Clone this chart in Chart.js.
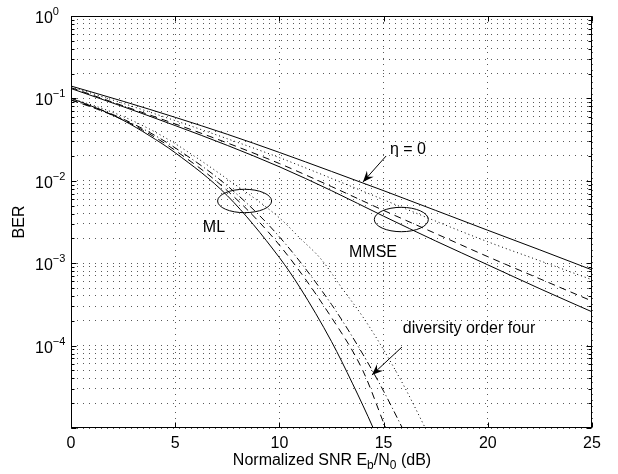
<!DOCTYPE html>
<html>
<head>
<meta charset="utf-8">
<script src="https://cdn.jsdelivr.net/npm/chart.js@4.4.1/dist/chart.umd.min.js"></script>
<style>
  html, body { margin: 0; padding: 0; background: #fff; }
  canvas { display: block; }
</style>
</head>
<body>
<canvas id="berChart" width="618" height="474"></canvas>
<script>
// axis ticks
const xTicks = [0, 5, 10, 15, 20, 25];
const yDecades = [1e-5, 1e-4, 1e-3, 1e-2, 1e-1, 1];
const yLabelExponents = [0, -1, -2, -3, -4];
const yMinorSteps = [1, 2, 3, 4, 5, 6, 7, 8, 9];

// MMSE curves (shared SNR grid, dB)
const snrMmse = [0, 2.5, 5, 7.5, 10, 12.5, 15, 17.5, 20, 22.5, 25];
const mmseEta0 = [0.1413, 0.0923, 0.0589, 0.0367, 0.0221, 0.013, 0.00759, 0.00437, 0.00251, 0.00145, 0.00083];
const mmseDotted = [0.138, 0.0871, 0.0537, 0.0324, 0.0191, 0.0107, 0.00589, 0.00324, 0.00182, 0.00107, 0.00063];
const mmseDashed = [0.135, 0.0813, 0.049, 0.0288, 0.0162, 0.00851, 0.00437, 0.00229, 0.0012, 0.000646, 0.000347];
const mmseLower = [0.1318, 0.0794, 0.0468, 0.0269, 0.0148, 0.00759, 0.00372, 0.00186, 0.000955, 0.00049, 0.000257];

// ML curves
const snrMlSolid = [0, 1.25, 2.5, 3.75, 5, 7.5, 10, 11, 12.5, 13.5, 14.5, 15];
const mlSolid = [0.1, 0.0759, 0.0543, 0.0355, 0.0219, 0.0066, 0.00117, 0.0005, 0.000112, 0.000035, 0.00001, 0.000005];
const snrMlDashed = [0, 1.25, 2.5, 3.75, 5, 7.5, 10, 12.5, 14, 15.1, 15.6];
const mlDashed = [0.0955, 0.0741, 0.055, 0.0372, 0.0234, 0.00759, 0.00166, 0.000219, 0.00005, 0.00001, 0.000005];
const snrMlDashDot = [0, 1.25, 2.5, 3.75, 5, 7.5, 10, 12.5, 14, 15, 15.9, 16.3];
const mlDashDot = [0.0955, 0.0759, 0.0562, 0.0389, 0.0251, 0.0087, 0.00209, 0.000316, 0.000079, 0.000028, 0.00001, 0.0000063];
const snrMlDotted = [0, 1.25, 2.5, 3.75, 5, 7.5, 10, 11, 12, 13, 14, 15, 16, 17, 17.4];
const mlDotted = [0.1, 0.0794, 0.0603, 0.0427, 0.0282, 0.0105, 0.00355, 0.002, 0.00112, 0.0005, 0.000224, 0.000089, 0.0000316, 0.00001, 0.0000063];

const FONT = '"Liberation Sans", Arial, Helvetica, sans-serif';

function pts(xs, ys) {
  return xs.map((x, i) => ({ x: x, y: ys[i] }));
}

function curve(xs, ys, dash) {
  return {
    data: pts(xs, ys),
    borderColor: '#000',
    borderWidth: 1,
    borderDash: dash,
    pointRadius: 0,
    fill: false,
    cubicInterpolationMode: 'monotone',
  };
}

// text built from pieces, some raised or lowered (super/subscripts)
function drawPieces(ctx, pieces, x, y, align) {
  let total = 0;
  pieces.forEach((p) => {
    ctx.font = p.size + 'px ' + FONT;
    total += ctx.measureText(p.t).width;
  });
  let cx = align === 'center' ? x - total / 2 : x;
  ctx.textAlign = 'left';
  ctx.textBaseline = 'alphabetic';
  pieces.forEach((p) => {
    ctx.font = p.size + 'px ' + FONT;
    ctx.fillText(p.t, cx, y + (p.dy || 0));
    cx += ctx.measureText(p.t).width;
  });
}

function arrow(ctx, x1, y1, x2, y2) {
  ctx.beginPath();
  ctx.moveTo(x1, y1);
  ctx.lineTo(x2, y2);
  ctx.stroke();
  const ang = Math.atan2(y2 - y1, x2 - x1);
  const len = 11, half = 4.5;
  const bx = x2 - len * Math.cos(ang), by = y2 - len * Math.sin(ang);
  const nx = -Math.sin(ang), ny = Math.cos(ang);
  const mx = x2 - len * 0.65 * Math.cos(ang), my = y2 - len * 0.65 * Math.sin(ang);
  ctx.beginPath();
  ctx.moveTo(x2, y2);
  ctx.lineTo(bx + nx * half, by + ny * half);
  ctx.lineTo(mx, my);
  ctx.lineTo(bx - nx * half, by - ny * half);
  ctx.closePath();
  ctx.fill();
}

const decor = {
  id: 'decor',
  afterDraw(chart) {
    const { ctx, chartArea: a, scales } = chart;
    const xs = scales.x, ys = scales.y;
    ctx.save();
    ctx.strokeStyle = '#000';
    ctx.fillStyle = '#000';
    ctx.lineWidth = 1;
    ctx.setLineDash([]);

    const L = Math.round(a.left) + 0.5, R = Math.round(a.right) - 0.5;
    const T = Math.round(a.top) + 0.5, B = Math.round(a.bottom) - 0.5;
    ctx.strokeRect(L, T, R - L, B - T);

    // inward ticks
    ctx.beginPath();
    xTicks.forEach((v) => {
      const px = Math.round(xs.getPixelForValue(v)) + 0.5;
      ctx.moveTo(px, B); ctx.lineTo(px, B - 5);
      ctx.moveTo(px, T); ctx.lineTo(px, T + 5);
    });
    ys.ticks.forEach((t) => {
      const py = Math.round(ys.getPixelForValue(t.value)) + 0.5;
      const len = yDecades.includes(t.value) ? 5 : 3;
      ctx.moveTo(L, py); ctx.lineTo(L + len, py);
      ctx.moveTo(R, py); ctx.lineTo(R - len, py);
    });
    ctx.stroke();

    // x tick labels
    ctx.font = '16px ' + FONT;
    ctx.textAlign = 'center';
    ctx.textBaseline = 'alphabetic';
    xTicks.forEach((v) => {
      ctx.fillText(String(v), xs.getPixelForValue(v), a.bottom + 20);
    });

    // y tick labels 10^k
    yLabelExponents.forEach((e) => {
      const py = ys.getPixelForValue(Math.pow(10, e));
      const ex = e === 0 ? '0' : '\u2212' + Math.abs(e);
      drawPieces(ctx, [
        { t: '10', size: 16 },
        { t: ex, size: 11, dy: -8 },
      ], 35, py + 7, 'left');
    });

    // axis titles
    drawPieces(ctx, [
      { t: 'Normalized SNR E', size: 16 },
      { t: 'b', size: 12, dy: 4 },
      { t: '/N', size: 16 },
      { t: '0', size: 12, dy: 4 },
      { t: ' (dB)', size: 16 },
    ], 332, 465, 'center');

    ctx.save();
    ctx.translate(24, 222);
    ctx.rotate(-Math.PI / 2);
    ctx.font = '16px ' + FONT;
    ctx.textAlign = 'center';
    ctx.textBaseline = 'alphabetic';
    ctx.fillText('BER', 0, 0);
    ctx.restore();

    // annotations
    ctx.font = '16px ' + FONT;
    ctx.textAlign = 'center';
    ctx.textBaseline = 'middle';
    notes.forEach((n) => {
      ctx.fillText(n.text, xs.getPixelForValue(n.x), ys.getPixelForValue(n.y));
    });

    arrows.forEach((ar) => {
      arrow(ctx,
        xs.getPixelForValue(ar.from[0]), ys.getPixelForValue(ar.from[1]),
        xs.getPixelForValue(ar.to[0]), ys.getPixelForValue(ar.to[1]));
    });

    ellipses.forEach((el) => {
      ctx.beginPath();
      ctx.ellipse(xs.getPixelForValue(el.x), ys.getPixelForValue(el.y), el.rx, el.ry, 0, 0, Math.PI * 2);
      ctx.stroke();
    });

    ctx.restore();
  },
};

const notes = [
  { text: '\u03B7 = 0', x: 16.17, y: 0.0237 },
  { text: 'ML', x: 6.86, y: 0.00267 },
  { text: 'MMSE', x: 14.49, y: 0.00133 },
  { text: 'diversity order four', x: 19.1, y: 0.00016 },
];
const arrows = [
  { from: [15.12, 0.02], to: [14.01, 0.00966] },
  { from: [15.88, 0.000096], to: [14.44, 0.000044] },
];
const ellipses = [
  { x: 8.33, y: 0.00569, rx: 27, ry: 11.7 },
  { x: 15.85, y: 0.00339, rx: 27, ry: 12.2 },
];

const gridDots = 'rgba(0,0,0,0.65)';

new Chart(document.getElementById('berChart'), {
  type: 'line',
  data: {
    datasets: [
      curve(snrMmse, mmseEta0, []),
      curve(snrMmse, mmseDotted, [1, 3]),
      curve(snrMmse, mmseDashed, [7, 5]),
      curve(snrMmse, mmseLower, []),
      curve(snrMlSolid, mlSolid, []),
      curve(snrMlDashed, mlDashed, [7, 5]),
      curve(snrMlDashDot, mlDashDot, [7, 3, 1, 3]),
      curve(snrMlDotted, mlDotted, [1, 3]),
    ],
  },
  plugins: [decor],
  options: {
    responsive: false,
    animation: false,
    devicePixelRatio: 1,
    layout: { padding: { left: 71, right: 26, top: 16, bottom: 46 } },
    plugins: { legend: { display: false }, tooltip: { enabled: false } },
    scales: {
      x: {
        type: 'linear',
        min: 0,
        max: 25,
        ticks: { display: false, stepSize: 5 },
        grid: { color: gridDots, lineWidth: 1, drawTicks: false },
        border: { display: false, dash: [1, 5] },
      },
      y: {
        type: 'logarithmic',
        min: 1e-5,
        max: 1,
        ticks: { display: false },
        afterBuildTicks: (scale) => {
          const list = [];
          yDecades.forEach((d) => {
            if (d === 1) { list.push({ value: 1 }); return; }
            yMinorSteps.forEach((m) => list.push({ value: +(m * d).toPrecision(3) }));
          });
          scale.ticks = list;
        },
        grid: { color: gridDots, lineWidth: 1, drawTicks: false },
        border: { display: false, dash: [1, 5] },
      },
    },
  },
});
</script>
</body>
</html>
